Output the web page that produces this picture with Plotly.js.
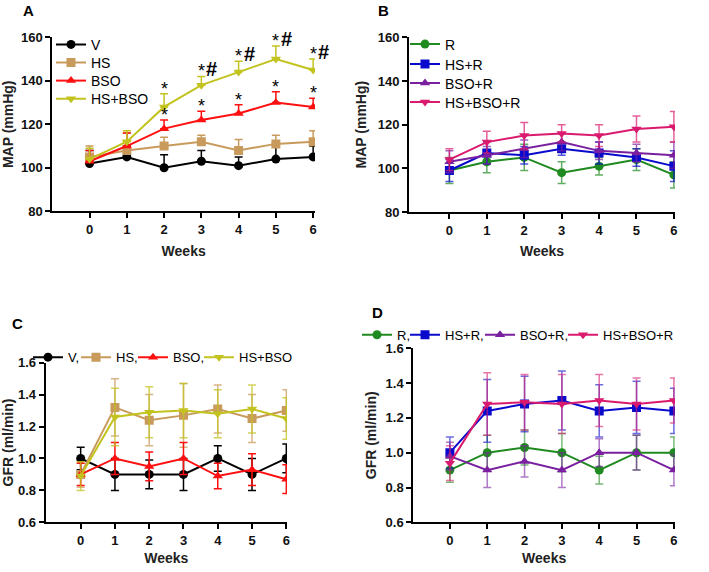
<!DOCTYPE html>
<html>
<head>
<meta charset="utf-8">
<script src="https://cdn.plot.ly/plotly-3.0.1.min.js"></script>
<style>html,body{margin:0;padding:0;background:#fff}#chart{width:709px;height:572px}</style>
</head>
<body>
<div id="chart"></div>
<script>
// ---------- data ----------
const weeks = [0, 1, 2, 3, 4, 5, 6];

// Panel A: MAP (mmHg)
const mapV      = [102, 105, 100, 103, 101, 104, 105];
const mapV_err  = [6, 5, 6, 5, 4, 6, 5];
const mapHS     = [105, 108, 110, 112, 108, 111, 112];
const mapHS_err = [5, 8, 4, 3, 5, 4, 5];
const mapBSO    = [103, 110, 118, 122, 125, 130, 128];
const mapBSO_err= [5, 6, 4, 4, 4, 5, 4];
const mapHSBSO  = [104, 112, 128, 138, 144, 150, 145];
const mapHSBSO_err = [5, 5, 6, 4, 5, 6, 5];
const sigBSO    = ['', '', '*', '*', '*', '*', '*'];
const sigHSBSO  = ['', '', '*', '*', '*', '*', '*'];
const hashHSBSO = ['', '', '', '#', '#', '#', '#'];

// Panel B: MAP (mmHg) with R
const mapR        = [99, 103, 105, 98, 101, 104, 97];
const mapR_err    = [6, 5, 6, 5, 4, 5, 6];
const mapHSR      = [99, 107, 106, 109, 107, 105, 101];
const mapHSR_err  = [5, 5, 4, 3, 5, 4, 7];
const mapBSOR     = [103, 106, 109, 112, 108, 107, 106];
const mapBSOR_err = [5, 4, 4, 4, 4, 4, 6];
const mapHSBSOR   = [104, 112, 115, 116, 115, 118, 119];
const mapHSBSOR_err = [5, 5, 6, 4, 5, 6, 7];

// Panel C: GFR (ml/min)
const gfrV       = [1.00, 0.90, 0.90, 0.90, 1.00, 0.90, 1.00];
const gfrV_err   = [0.07, 0.10, 0.09, 0.10, 0.08, 0.10, 0.09];
const gfrHS      = [0.90, 1.32, 1.24, 1.27, 1.31, 1.25, 1.30];
const gfrHS_err  = [0.08, 0.18, 0.16, 0.20, 0.15, 0.15, 0.13];
const gfrBSO     = [0.90, 1.00, 0.95, 1.00, 0.89, 0.93, 0.87];
const gfrBSO_err = [0.07, 0.10, 0.09, 0.10, 0.08, 0.10, 0.09];
const gfrHSBSO   = [0.89, 1.26, 1.29, 1.30, 1.28, 1.31, 1.25];
const gfrHSBSO_err = [0.09, 0.18, 0.16, 0.17, 0.15, 0.15, 0.13];

// Panel D: GFR (ml/min) with R
const gfrR        = [0.90, 1.00, 1.03, 1.00, 0.90, 1.00, 1.00];
const gfrR_err    = [0.07, 0.10, 0.10, 0.11, 0.08, 0.10, 0.09];
const gfrHSR      = [1.00, 1.24, 1.28, 1.30, 1.24, 1.26, 1.24];
const gfrHSR_err  = [0.09, 0.18, 0.16, 0.17, 0.15, 0.15, 0.13];
const gfrBSOR     = [0.98, 0.90, 0.95, 0.90, 1.00, 1.00, 0.90];
const gfrBSOR_err = [0.08, 0.10, 0.09, 0.10, 0.08, 0.10, 0.09];
const gfrHSBSOR   = [0.94, 1.28, 1.29, 1.28, 1.30, 1.28, 1.30];
const gfrHSBSOR_err = [0.10, 0.18, 0.16, 0.17, 0.15, 0.15, 0.13];

// ---------- styles ----------
const C_V = '#000000', C_HS = '#C89B5C', C_BSO = '#FF1010', C_HSBSO = '#C3C320';
const C_R = '#1F8A1F', C_HSR = '#0A0ACC', C_BSOR = '#7A1FA0', C_HSBSOR = '#DA1A6E';
const FONT = 'Liberation Sans, Arial, sans-serif';
const W = 709, H = 572;

function fade(hex, a) {
  const n = parseInt(hex.slice(1), 16);
  return 'rgba(' + (n >> 16) + ',' + ((n >> 8) & 255) + ',' + (n & 255) + ',' + a + ')';
}

let legIdx = 0;
const legends = {};
// px: legend marker centre x, py: legend row centre y (pixels from top-left), fs: legend font size
function tr(name, y, err, color, symbol, xa, ya, oneSided, errColor, px, py, fs) {
  legIdx++;
  const lname = legIdx === 1 ? 'legend' : 'legend' + legIdx;
  legends[lname] = {
    x: (px - 20) / W, y: (H - (py - 14.5)) / H, xanchor: 'left', yanchor: 'top',
    bgcolor: 'rgba(0,0,0,0)', borderwidth: 0,
    font: {family: FONT, size: fs || 14, color: '#000'}
  };
  const e = oneSided
    ? {type: 'data', symmetric: false, array: err, arrayminus: err.map(() => 0), color: errColor || color, thickness: 1.5, width: 4}
    : {type: 'data', array: err, color: errColor || color, thickness: 1.5, width: 4};
  return {
    x: weeks, y: y, name: name, type: 'scatter', mode: 'lines+markers',
    xaxis: xa, yaxis: ya, legend: lname,
    line: {color: color, width: 2},
    marker: {color: color, symbol: symbol, size: 9},
    error_y: e
  };
}

const traces = [
  tr('V', mapV, mapV_err, C_V, 'circle', 'x', 'y', true, null, 71, 43.3),
  tr('HS', mapHS, mapHS_err, C_HS, 'square', 'x', 'y', true, null, 71, 61.3),
  tr('BSO', mapBSO, mapBSO_err, C_BSO, 'triangle-up', 'x', 'y', true, null, 71, 79.5),
  tr('HS+BSO', mapHSBSO, mapHSBSO_err, C_HSBSO, 'triangle-down', 'x', 'y', true, null, 71, 97.7),

  tr('R', mapR, mapR_err, C_R, 'circle', 'x2', 'y2', false, fade(C_R, 0.7), 425, 43),
  tr('HS+R', mapHSR, mapHSR_err, C_HSR, 'square', 'x2', 'y2', false, fade(C_HSR, 0.7), 425, 63),
  tr('BSO+R', mapBSOR, mapBSOR_err, C_BSOR, 'triangle-up', 'x2', 'y2', false, fade(C_BSOR, 0.7), 425, 82),
  tr('HS+BSO+R', mapHSBSOR, mapHSBSOR_err, C_HSBSOR, 'triangle-down', 'x2', 'y2', false, fade(C_HSBSOR, 0.7), 425, 101),

  tr('V,', gfrV, gfrV_err, C_V, 'circle', 'x3', 'y3', false, null, 48, 356.7, 13),
  tr('HS,', gfrHS, gfrHS_err, C_HS, 'square', 'x3', 'y3', false, fade(C_HS, 0.75), 96, 356.7, 13),
  tr('BSO,', gfrBSO, gfrBSO_err, C_BSO, 'triangle-up', 'x3', 'y3', false, null, 153, 356.7, 13),
  tr('HS+BSO', gfrHSBSO, gfrHSBSO_err, C_HSBSO, 'triangle-down', 'x3', 'y3', false, fade(C_HSBSO, 0.75), 219, 356.7, 13),

  tr('R,', gfrR, gfrR_err, C_R, 'circle', 'x4', 'y4', false, fade(C_R, 0.6), 377, 334.3, 13),
  tr('HS+R,', gfrHSR, gfrHSR_err, C_HSR, 'square', 'x4', 'y4', false, fade(C_HSR, 0.6), 425, 334.3, 13),
  tr('BSO+R,', gfrBSOR, gfrBSOR_err, C_BSOR, 'triangle-up', 'x4', 'y4', false, fade(C_BSOR, 0.6), 500, 334.3, 13),
  tr('HS+BSO+R', gfrHSBSOR, gfrHSBSOR_err, C_HSBSOR, 'triangle-down', 'x4', 'y4', false, fade(C_HSBSOR, 0.6), 583, 334.3, 13)
];

// ---------- axes ----------
function xd(l, r) { return [l / W, r / W]; }
function yd(b, t) { return [(H - b) / H, (H - t) / H]; }
function xax(dom, range, anchor, stand) {
  return {
    domain: dom, range: range, anchor: anchor,
    tickvals: weeks, ticks: 'outside', ticklen: 5, tickwidth: 2, tickcolor: '#000',
    showline: true, linecolor: '#000', linewidth: 2, showgrid: false, zeroline: false,
    tickfont: {family: FONT, size: 13, color: '#111', weight: 'bold'},
    title: {text: '<b>Weeks</b>', font: {family: FONT, size: 14, color: '#222'}, standoff: stand}
  };
}
function yax(dom, range, anchor, dtick, fmt, title, stand) {
  return {
    domain: dom, range: range, anchor: anchor, dtick: dtick, tick0: range[0], tickformat: fmt,
    ticks: 'outside', ticklen: 5, tickwidth: 2, tickcolor: '#000',
    showline: true, linecolor: '#000', linewidth: 2, showgrid: false, zeroline: false,
    tickfont: {family: FONT, size: 13, color: '#111', weight: 'bold'},
    title: {text: '<b>' + title + '</b>', font: {family: FONT, size: 14, color: '#222'}, standoff: stand}
  };
}

// ---------- annotations ----------
const ann = [];
function panelLabel(t, x, y) {
  ann.push({text: '<b>' + t + '</b>', x: x / W, y: (H - y) / H, xref: 'paper', yref: 'paper',
    showarrow: false, xanchor: 'center', yanchor: 'middle', font: {family: FONT, size: 15, color: '#000'}});
}
panelLabel('A', 28, 10);
panelLabel('B', 383, 10);
panelLabel('C', 17, 323);
panelLabel('D', 378, 312);

weeks.forEach((w, i) => {
  if (sigBSO[i]) ann.push({text: sigBSO[i], x: w, y: mapBSO[i] + mapBSO_err[i], xref: 'x', yref: 'y',
    showarrow: false, xanchor: 'center', yanchor: 'bottom', yshift: -7, font: {family: FONT, size: 18, color: '#000'}});
  if (sigHSBSO[i]) ann.push({text: sigHSBSO[i], x: w, y: mapHSBSO[i] + mapHSBSO_err[i], xref: 'x', yref: 'y',
    showarrow: false, xanchor: 'center', yanchor: 'bottom', yshift: -7, font: {family: FONT, size: 18, color: '#000'}});
  if (hashHSBSO[i]) ann.push({text: '<b>' + hashHSBSO[i] + '</b>', x: w, y: mapHSBSO[i] + mapHSBSO_err[i], xref: 'x', yref: 'y',
    showarrow: false, xanchor: 'left', yanchor: 'bottom', xshift: 3, yshift: -6, font: {family: FONT, size: 20, color: '#000'}});
});

const layout = Object.assign({
  width: W, height: H, margin: {l: 0, r: 0, t: 0, b: 0},
  paper_bgcolor: '#fff', plot_bgcolor: '#fff', showlegend: true,
  font: {family: FONT},
  xaxis: xax(xd(52.3, 315), [-1.0, 6.05], 'y', 10),
  yaxis: yax(yd(211.3, 37.3), [80, 160], 'x', 20, 'd', 'MAP (mmHg)', 8),
  xaxis2: xax(xd(409, 675), [-1.08, 6.03], 'y2', 10),
  yaxis2: yax(yd(212, 37.3), [80, 160], 'x2', 20, 'd', 'MAP (mmHg)', 8),
  xaxis3: xax(xd(45.7, 287), [-1.02, 6.02], 'y3', 6),
  yaxis3: yax(yd(522.3, 362.7), [0.6, 1.6], 'x3', 0.2, '.1f', 'GFR (ml/min)', 6),
  xaxis4: xax(xd(413.3, 675), [-0.98, 6.03], 'y4', 6),
  yaxis4: yax(yd(522.3, 348.3), [0.6, 1.6], 'x4', 0.2, '.1f', 'GFR (ml/min)', 6),
  annotations: ann
}, legends);

Plotly.newPlot('chart', traces, layout, {displayModeBar: false, staticPlot: true});
</script>
</body>
</html>
